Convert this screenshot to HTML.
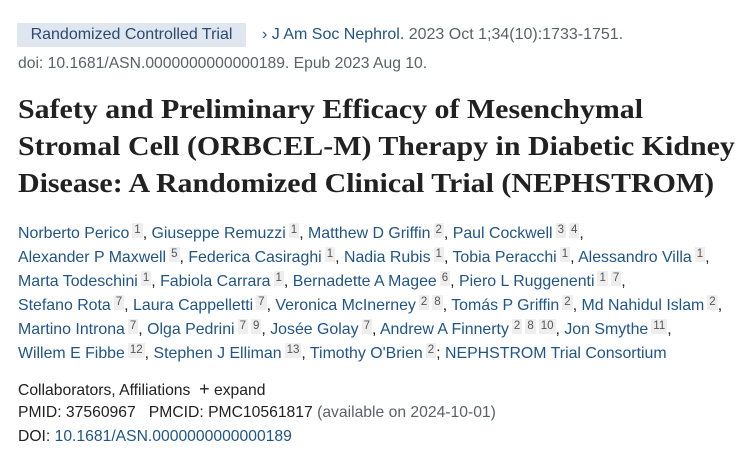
<!DOCTYPE html>
<html><head><meta charset="utf-8"><style>
body{margin:0;width:752px;height:468px;background:#fff;font-family:"Liberation Sans",sans-serif;overflow:hidden;position:relative}
.l{position:absolute;left:18px;white-space:nowrap;font-size:15.7px;color:#212121;line-height:20px}
.au{font-size:15.9px}
a{color:#20558a;text-decoration:none}
.g{color:#5b616b}
.s{display:inline-block;background:#eee;color:#555;font-size:11.5px;line-height:15px;padding:0 2px;vertical-align:5px;margin-left:3px}
.badge{position:absolute;left:17px;top:23px;width:229px;height:24px;background:#dfe6ef;color:#2a4a70;font-size:16px;line-height:24px;text-align:center}
.t{position:absolute;left:18px;font-family:"Liberation Serif",serif;font-weight:bold;font-size:27px;color:#212121;white-space:nowrap;line-height:37px;transform-origin:0 0;transform:scaleX(1.108)}
</style></head><body>
<div class="badge">Randomized Controlled Trial</div>
<div class="l" style="left:262px;top:25px;font-size:16px"><a>›&nbsp;J Am Soc Nephrol.</a> <span class="g">2023 Oct 1;34(10):1733-1751.</span></div>
<div class="l g" style="top:54px">doi: 10.1681/ASN.0000000000000189. Epub 2023 Aug 10.</div>
<div class="t" style="top:91px">Safety and Preliminary Efficacy of Mesenchymal</div>
<div class="t" style="top:128px">Stromal Cell (ORBCEL-M) Therapy in Diabetic Kidney</div>
<div class="t" style="top:165px">Disease: A Randomized Clinical Trial (NEPHSTROM)</div>
<div class="l au" style="top:223px"><a>Norberto Perico</a><span class="s">1</span>, <a>Giuseppe Remuzzi</a><span class="s">1</span>, <a>Matthew D Griffin</a><span class="s">2</span>, <a>Paul Cockwell</a><span class="s">3</span><span class="s">4</span>,</div>
<div class="l au" style="top:247px"><a>Alexander P Maxwell</a><span class="s">5</span>, <a>Federica Casiraghi</a><span class="s">1</span>, <a>Nadia Rubis</a><span class="s">1</span>, <a>Tobia Peracchi</a><span class="s">1</span>, <a>Alessandro Villa</a><span class="s">1</span>,</div>
<div class="l au" style="top:271px"><a>Marta Todeschini</a><span class="s">1</span>, <a>Fabiola Carrara</a><span class="s">1</span>, <a>Bernadette A Magee</a><span class="s">6</span>, <a>Piero L Ruggenenti</a><span class="s">1</span><span class="s">7</span>,</div>
<div class="l au" style="top:295px"><a>Stefano Rota</a><span class="s">7</span>, <a>Laura Cappelletti</a><span class="s">7</span>, <a>Veronica McInerney</a><span class="s">2</span><span class="s">8</span>, <a>Tomás P Griffin</a><span class="s">2</span>, <a>Md Nahidul Islam</a><span class="s">2</span>,</div>
<div class="l au" style="top:319px"><a>Martino Introna</a><span class="s">7</span>, <a>Olga Pedrini</a><span class="s">7</span><span class="s">9</span>, <a>Josée Golay</a><span class="s">7</span>, <a>Andrew A Finnerty</a><span class="s">2</span><span class="s">8</span><span class="s">10</span>, <a>Jon Smythe</a><span class="s">11</span>,</div>
<div class="l au" style="top:343px"><a>Willem E Fibbe</a><span class="s">12</span>, <a>Stephen J Elliman</a><span class="s">13</span>, <a>Timothy O'Brien</a><span class="s">2</span>; <a>NEPHSTROM Trial Consortium</a></div>
<div class="l" style="top:379px">Collaborators, Affiliations &nbsp;<b style="font-weight:normal;font-size:18px">+</b> expand</div>
<div class="l" style="top:403px">PMID: 37560967 &nbsp;&nbsp;PMCID: PMC10561817 <span class="g">(available on 2024-10-01)</span></div>
<div class="l" style="top:427px">DOI: <a>10.1681/ASN.0000000000000189</a></div>
</body></html>
